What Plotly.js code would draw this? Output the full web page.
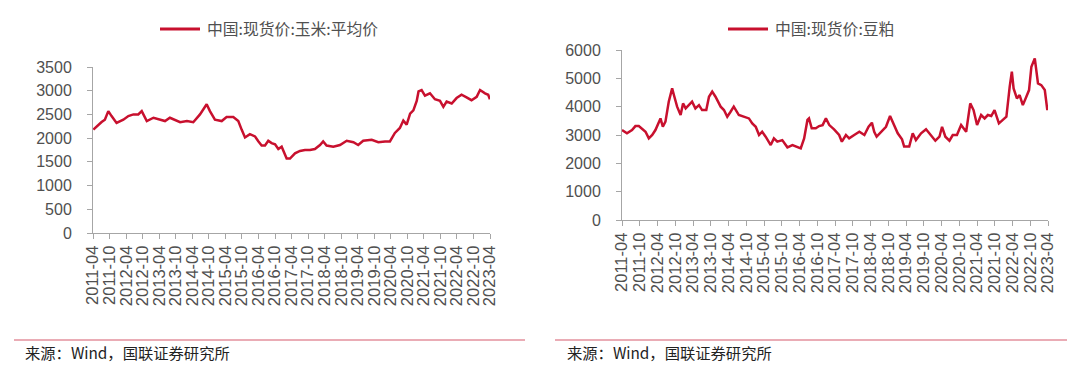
<!DOCTYPE html>
<html>
<head>
<meta charset="utf-8">
<script src="https://cdn.plot.ly/plotly-3.0.1.min.js"></script>
<style>
html,body{margin:0;padding:0;background:#fff;}
#chart{width:1080px;height:370px;}
</style>
</head>
<body>
<div id="chart"></div>
<script>
// ---------- data ----------
var cornName = "中国:现货价:玉米:平均价";
var mealName = "中国:现货价:豆粕";
var sourceText = "来源：Wind，国联证券研究所";

var tickLabels = ["2011-04","2011-10","2012-04","2012-10","2013-04","2013-10","2014-04","2014-10",
  "2015-04","2015-10","2016-04","2016-10","2017-04","2017-10","2018-04","2018-10","2019-04","2019-10",
  "2020-04","2020-10","2021-04","2021-10","2022-04","2022-10","2023-04"];

var cornDates = ["2011-04-05","2011-05-10","2011-07-05","2011-08-10","2011-09-17","2011-10-23","2011-12-17",
  "2012-03-01","2012-04-25","2012-06-20","2012-08-13","2012-09-20","2012-11-15","2013-01-28","2013-04-10",
  "2013-06-04","2013-07-28","2013-09-22","2013-11-18","2014-02-01","2014-04-12","2014-06-25","2014-09-07",
  "2014-10-13","2014-12-07","2015-02-20","2015-04-15","2015-06-28","2015-08-22","2015-09-28","2015-11-04",
  "2015-12-28","2016-02-23","2016-04-01","2016-05-06","2016-06-12","2016-07-18","2016-08-24","2016-10-01",
  "2016-11-06","2016-12-13","2017-02-06","2017-03-15","2017-05-09","2017-07-03","2017-08-27","2017-10-21",
  "2017-12-15","2018-02-09","2018-03-16","2018-04-23","2018-07-06","2018-09-18","2018-12-01","2019-02-13",
  "2019-04-07","2019-06-01","2019-09-03","2019-11-15","2020-01-28","2020-03-22","2020-05-16","2020-07-10",
  "2020-08-17","2020-09-23","2020-10-31","2020-12-06","2021-01-12","2021-02-01","2021-03-07","2021-04-13",
  "2021-06-07","2021-08-01","2021-09-26","2021-11-02","2021-12-08","2022-02-02","2022-03-28","2022-05-22",
  "2022-07-16","2022-09-09","2022-11-05","2022-12-12","2023-02-05","2023-03-12","2023-03-31"];
var cornPrice = [2180,2250,2340,2390,2570,2465,2320,2390,2465,2500,2500,2570,2360,2430,2390,
  2360,2430,2390,2335,2360,2335,2500,2715,2570,2390,2360,2445,2445,2360,2180,2015,
  2085,2035,1930,1845,1845,1945,1895,1870,1770,1820,1570,1570,1680,1730,1750,1750,
  1770,1855,1930,1845,1820,1855,1945,1915,1855,1945,1965,1915,1930,1930,2110,2215,
  2370,2285,2515,2585,2785,2985,3015,2895,2945,2820,2785,2660,2770,2730,2845,2915,
  2860,2800,2870,3015,2945,2915,2820];

var mealDates = ["2011-04-01","2011-05-22","2011-07-13","2011-08-17","2011-09-21","2011-10-25","2011-11-29",
  "2012-01-02","2012-02-06","2012-03-10","2012-04-07","2012-05-01","2012-05-25","2012-06-21","2012-07-25",
  "2012-08-29","2012-09-16","2012-10-19","2012-11-24","2012-12-19","2013-01-15","2013-02-18","2013-03-22",
  "2013-04-25","2013-06-01","2013-07-03","2013-08-15","2013-09-12","2013-10-15","2013-11-18","2014-01-10",
  "2014-02-13","2014-03-19","2014-04-22","2014-05-25","2014-07-16","2014-09-07","2014-10-28","2014-12-01",
  "2015-01-06","2015-02-09","2015-03-13","2015-04-18","2015-06-09","2015-07-12","2015-08-16","2015-10-06",
  "2015-11-28","2016-01-19","2016-03-10","2016-04-13","2016-05-18","2016-06-21","2016-07-07","2016-08-04",
  "2016-09-15","2016-10-19","2016-11-24","2016-12-28","2017-02-01","2017-03-22","2017-05-13","2017-06-10",
  "2017-07-22","2017-08-24","2017-10-15","2017-12-07","2018-01-28","2018-03-12","2018-04-15","2018-05-09",
  "2018-06-03","2018-07-16","2018-09-07","2018-10-19","2018-11-21","2019-01-06","2019-02-19","2019-03-13",
  "2019-05-04","2019-06-09","2019-07-12","2019-09-03","2019-10-24","2019-12-15","2020-01-28","2020-03-10",
  "2020-04-06","2020-05-10","2020-06-21","2020-07-25","2020-09-06","2020-10-19","2020-12-10","2021-01-21",
  "2021-02-24","2021-04-01","2021-05-13","2021-06-18","2021-07-21","2021-08-25","2021-09-28","2021-11-12",
  "2021-12-25","2022-01-28","2022-03-03","2022-03-25","2022-04-12","2022-05-16","2022-06-13","2022-07-16",
  "2022-08-21","2022-09-18","2022-10-12","2022-11-16","2022-12-19","2023-01-22","2023-02-27","2023-03-25",
  "2023-03-31"];
var mealPrice = [3175,3060,3175,3315,3315,3200,3115,2880,3000,3175,3410,3585,3290,3470,4175,
  4645,4410,4000,3705,4115,3940,4055,4175,3940,4055,3880,3880,4350,4530,4350,4000,
  3880,3645,3820,4000,3705,3645,3585,3410,3290,3000,3115,2940,2645,2880,2765,2820,
  2565,2645,2590,2530,2880,3530,3585,3235,3235,3315,3350,3585,3350,3200,3000,2765,
  3000,2880,3000,3115,3000,3290,3435,3115,2940,3115,3290,3670,3435,3060,2845,2590,
  2590,3060,2820,3060,3200,3000,2800,2940,3290,2940,2800,3000,3000,3350,3115,4115,
  3880,3350,3705,3585,3705,3670,3880,3410,3550,3645,4705,5235,4645,4290,4410,4055,
  4350,4585,5410,5705,4820,4760,4585,3880,4055];

// ---------- layout helpers ----------
var W = 1080, H = 370;
function px(x){ return x / W; }
function py(y){ return 1 - y / H; }
var red = "#C8102E";
var axisGray = "#A6A6A6";
var labelGray = "#505050";
var tickVals = tickLabels.map(function(t){ return t + "-01"; });

function xAxis(domain, anchor){
  return {
    domain: domain, anchor: anchor, type: "date",
    range: ["2011-04-01", "2023-04-01"],
    tickvals: tickVals, ticktext: tickLabels, tickangle: -90,
    ticks: "outside", ticklen: 5, tickcolor: axisGray, tickwidth: 1,
    showline: true, linecolor: axisGray, linewidth: 1,
    showgrid: false, zeroline: false,
    tickfont: {family: "Liberation Sans, Arial, sans-serif", size: 16.5, color: labelGray},
    fixedrange: true
  };
}
function yAxis(domain, anchor, maxV, step){
  return {
    domain: domain, anchor: anchor, range: [0, maxV], dtick: step, tick0: 0,
    ticks: "outside", ticklen: 5, tickcolor: axisGray, tickwidth: 1,
    showline: true, linecolor: axisGray, linewidth: 1,
    showgrid: false, zeroline: false, ticklabelstandoff: 12,
    tickfont: {family: "Liberation Sans, Arial, sans-serif", size: 16, color: labelGray},
    fixedrange: true
  };
}

var traces = [
  {x: cornDates, y: cornPrice, type: "scatter", mode: "lines", name: cornName,
   line: {color: red, width: 2.5}, xaxis: "x", yaxis: "y", showlegend: false},
  {x: mealDates, y: mealPrice, type: "scatter", mode: "lines", name: mealName,
   line: {color: red, width: 2.5}, xaxis: "x2", yaxis: "y2", showlegend: false}
];

var cjk = "Noto Sans CJK SC, sans-serif";
var layout = {
  width: W, height: H,
  margin: {l: 0, r: 0, t: 0, b: 0},
  paper_bgcolor: "#fff", plot_bgcolor: "#fff",
  showlegend: false,
  xaxis: xAxis([px(93), px(490)], "y"),
  yaxis: yAxis([py(233), py(67)], "x", 3500, 500),
  xaxis2: xAxis([px(622), px(1048)], "y2"),
  yaxis2: yAxis([py(220), py(50)], "x2", 6000, 1000),
  shapes: [
    {type: "line", xref: "paper", yref: "paper", x0: px(160), x1: px(200), y0: py(29), y1: py(29),
     line: {color: red, width: 3}},
    {type: "line", xref: "paper", yref: "paper", x0: px(728), x1: px(768), y0: py(29), y1: py(29),
     line: {color: red, width: 3}},
    {type: "line", xref: "paper", yref: "paper", x0: px(14), x1: px(525), y0: py(340), y1: py(340),
     line: {color: "#E3909C", width: 1.5}},
    {type: "line", xref: "paper", yref: "paper", x0: px(555), x1: px(1067), y0: py(340), y1: py(340),
     line: {color: "#E3909C", width: 1.5}}
  ],
  annotations: [
    {xref: "paper", yref: "paper", x: px(205), y: py(29), xanchor: "left", yanchor: "middle",
     showarrow: false, text: cornName, font: {family: cjk, size: 15.8, color: labelGray}},
    {xref: "paper", yref: "paper", x: px(773), y: py(29), xanchor: "left", yanchor: "middle",
     showarrow: false, text: mealName, font: {family: cjk, size: 15.8, color: labelGray}},
    {xref: "paper", yref: "paper", x: px(23), y: py(352), xanchor: "left", yanchor: "middle",
     showarrow: false, text: sourceText, font: {family: cjk, size: 15.3, color: "#222"}},
    {xref: "paper", yref: "paper", x: px(565), y: py(352), xanchor: "left", yanchor: "middle",
     showarrow: false, text: sourceText, font: {family: cjk, size: 15.3, color: "#222"}}
  ]
};

Plotly.newPlot("chart", traces, layout, {displayModeBar: false, staticPlot: true});
</script>
</body>
</html>
